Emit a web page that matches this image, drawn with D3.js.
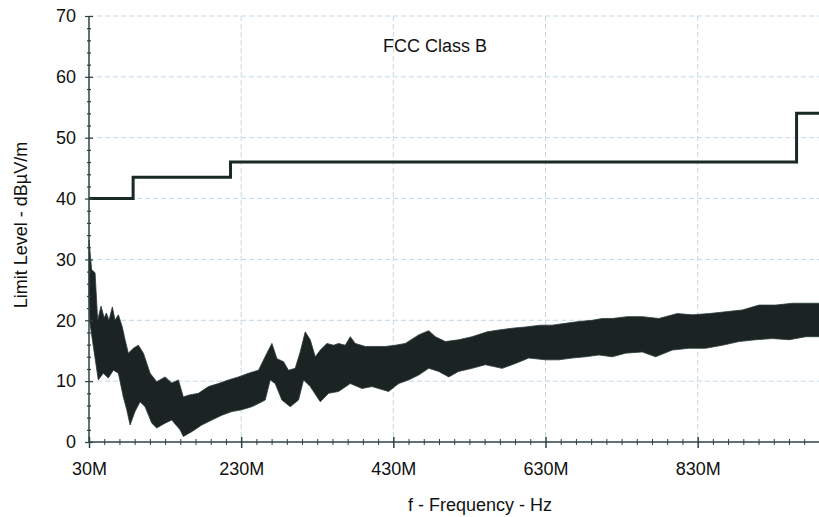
<!DOCTYPE html>
<html lang="en">
<head>
  <meta charset="UTF-8">
  <title>FCC Class B emissions</title>
  <style>
  body { margin: 0; background: #fff; }
  svg { display: block; font-family: "Liberation Sans", Arial, sans-serif; }
  .grid line { stroke: #c3d8e6; stroke-dasharray: 5,3; }
  .axis path { display: none; }
  .axis line { stroke: #2c4242; }
  .axis text { font-size: 18px; fill: #111; }
  </style>
</head>
<body>
  <svg></svg>
  <script src="https://cdn.jsdelivr.net/npm/d3@7"></script>
  <script>
  var width = 819;
  var height = 517;

  // limit line (FCC Class B), step after each frequency
  var limitFreq = [30, 88, 216, 960, 1000];
  var limitLevel = [40, 43.5, 46, 54, 54];

  var upperFreq = [30, 33.5, 38, 41.4, 45.8, 50, 52.8, 56.3, 60.7, 64.2, 68.6, 73.8, 77.4, 81.7, 88.3, 94.9,
    101.5, 110.3, 119, 130, 138.8, 147.5, 154, 160.7, 173.8, 187, 200, 213.3, 226.5, 239.6, 252.8, 263.8,
    270.4, 277, 285.7, 292.2, 301, 307.6, 314.2, 320.8, 327.4, 334, 342.7, 351.5, 358, 366.8, 373.4, 380,
    393.2, 406.3, 419.5, 432.6, 445.8, 463.3, 476.5, 485.3, 498.4, 515.9, 533.5, 553.3, 568.6, 586.2,
    603.7, 623.4, 638.8, 656.3, 673.8, 691.4, 704.6, 717.8, 737.5, 757.2, 779, 803.3, 823, 845, 866.8,
    888.8, 910.7, 932.6, 954.6, 972.1, 1000];
  var upperLevel = [33.2, 28.3, 27.8, 20, 22.3, 20.4, 21.2, 20, 22.2, 20, 20.9, 18.9, 16.8, 14.6, 15.4, 15.9,
    14.6, 11.3, 9.9, 10.7, 9.7, 10.2, 7.4, 7.7, 8, 9.1, 9.6, 10.2, 10.7, 11.3, 11.8, 14.6,
    16.2, 13.7, 13.2, 11.8, 12.1, 14.8, 18.1, 16.8, 14, 15.1, 16.2, 15.9, 16.2, 15.9, 17.3, 16.2,
    15.7, 15.7, 15.7, 15.9, 16.2, 17.6, 18.3, 17.3, 16.5, 16.8, 17.3, 18.1, 18.4, 18.7,
    18.9, 19.2, 19.2, 19.5, 19.8, 20, 20.3, 20.3, 20.6, 20.6, 20.3, 21.1, 20.9, 21.1, 21.4,
    21.7, 22.5, 22.5, 22.8, 22.8, 22.8];
  var lowerFreq = [30, 31.3, 35.7, 42.2, 48.8, 55.4, 62, 68.6, 75.1, 79.6, 84, 90.5, 97.1, 103.7, 112.5, 119,
    130, 138.8, 149.7, 154, 165.1, 178.3, 191.4, 204.6, 217.8, 230.9, 244, 257.2, 261.6, 268.2, 274.7,
    283.5, 294.5, 305.4, 312, 320.8, 334, 344.9, 358, 373.4, 388.8, 402, 423.8, 437, 450.1, 463.3, 476.5,
    489.6, 502.8, 515.9, 533.5, 551, 573, 590.5, 608, 630, 647.5, 665, 682.6, 700.1, 717.8, 735.3,
    757.2, 774.7, 796.7, 818.6, 840.5, 862.5, 884.3, 906.3, 928.3, 950.1, 972.1, 1000];
  var lowerLevel = [24, 19.5, 15.7, 10.2, 11.3, 10.5, 11.8, 11.3, 7.4, 5.3, 2.8, 5, 6.6, 5.8, 3.1, 2.3,
    3.1, 3.6, 2, 0.9, 1.7, 2.8, 3.6, 4.4, 5, 5.3, 5.8, 6.6, 6.9, 10.2, 9.6,
    6.9, 5.8, 6.9, 10.2, 9.1, 6.6, 8, 8.3, 9.6, 8.8, 9.1, 8.3, 9.6, 10.2, 11, 12.1,
    11.6, 10.7, 11.6, 12.1, 12.7, 12.1, 12.9, 13.8, 13.5, 13.5, 13.8, 14, 14.3, 14, 14.6,
    14.8, 14, 15.1, 15.4, 15.4, 15.9, 16.5, 16.8, 17, 16.8, 17.3, 17.3];

  var xMajor = [30, 230, 430, 630, 830];
  var xLabels = ["30M", "230M", "430M", "630M", "830M"];
  var yMajor = [0, 10, 20, 30, 40, 50, 60, 70];

  var xScale = d3.scaleLinear().domain([30, 1000]).range([89, 827]);
  var yScale = d3.scaleLinear().domain([0, 70]).range([442, 16]);

  var svg = d3.select("svg").attr("width", width).attr("height", height);

  // dashed grid
  svg.append("g").attr("class", "grid")
    .selectAll("line.h").data(yMajor.filter(d => d > 0)).enter().append("line")
      .attr("x1", 89).attr("x2", width)
      .attr("y1", d => yScale(d)).attr("y2", d => yScale(d));
  svg.select(".grid")
    .selectAll("line.v").data(xMajor.filter(d => d > 30)).enter().append("line")
      .attr("y1", 16).attr("y2", 442)
      .attr("x1", d => xScale(d)).attr("x2", d => xScale(d));

  // noise band
  var bandPts = upperFreq.map((f, i) => [f, upperLevel[i]])
    .concat(lowerFreq.map((f, i) => [f, lowerLevel[i]]).reverse());
  var line = d3.line().x(d => xScale(d[0])).y(d => yScale(d[1]));
  svg.append("path")
    .attr("d", line(bandPts) + "Z")
    .attr("fill", "#1b2423")
    .attr("stroke", "#2a3a38")
    .attr("stroke-width", 0.8)
    .attr("stroke-linejoin", "miter");

  // limit line
  var stepLine = d3.line().curve(d3.curveStepAfter)
    .x(d => xScale(d[0])).y(d => yScale(d[1]));
  svg.append("path")
    .attr("d", stepLine(limitFreq.map((f, i) => [f, limitLevel[i]])))
    .attr("fill", "none")
    .attr("stroke", "#1a2826")
    .attr("stroke-width", 3);

  // axis lines
  svg.append("line").attr("x1", 89).attr("x2", width).attr("y1", 442).attr("y2", 442)
    .attr("stroke", "#2c4242").attr("stroke-width", 1.5);
  svg.append("line").attr("x1", 89).attr("x2", 89).attr("y1", 16).attr("y2", 442)
    .attr("stroke", "#2c4242").attr("stroke-width", 1.5);

  // x minor ticks every 20M, major labelled every 200M
  var xMinor = d3.range(30, 1001, 20);
  svg.append("g").attr("class", "axis")
    .attr("transform", "translate(0,442)")
    .call(d3.axisBottom(xScale).tickValues(xMinor).tickFormat(""))
    .selectAll(".tick line").attr("y1", d => xMajor.includes(d) ? -5 : -3).attr("y2", d => xMajor.includes(d) ? 6 : 3)
      .attr("stroke-width", d => xMajor.includes(d) ? 1.5 : 1);
  svg.append("g").attr("class", "axis")
    .attr("transform", "translate(0,442)")
    .call(d3.axisBottom(xScale).tickValues(xMajor).tickSize(0).tickPadding(20)
      .tickFormat((d, i) => xLabels[i]))
    .selectAll(".tick line").remove();

  // y minor every 2, labels every 10
  var yMinor = d3.range(0, 71, 2);
  svg.append("g").attr("class", "axis")
    .attr("transform", "translate(89,0)")
    .call(d3.axisLeft(yScale).tickValues(yMinor).tickFormat(""))
    .selectAll(".tick line").attr("x1", d => d % 10 === 0 ? -4 : -2).attr("x2", d => d % 10 === 0 ? 4 : 2)
      .attr("stroke-width", 1.2);
  svg.append("g").attr("class", "axis")
    .attr("transform", "translate(89,0)")
    .call(d3.axisLeft(yScale).tickValues(yMajor).tickSize(0).tickPadding(13))
    .selectAll(".tick line").remove();

  // titles
  svg.append("text")
    .attr("x", 435).attr("y", 52)
    .attr("text-anchor", "middle")
    .attr("font-size", 18).attr("fill", "#111")
    .text("FCC Class B");
  svg.append("text")
    .attr("x", 480).attr("y", 511)
    .attr("text-anchor", "middle")
    .attr("font-size", 18).attr("fill", "#111")
    .text("f - Frequency - Hz");
  svg.append("text")
    .attr("transform", "translate(27,225) rotate(-90)")
    .attr("text-anchor", "middle")
    .attr("font-size", 18).attr("fill", "#111")
    .text("Limit Level - dBµV/m");
  </script>
</body>
</html>
